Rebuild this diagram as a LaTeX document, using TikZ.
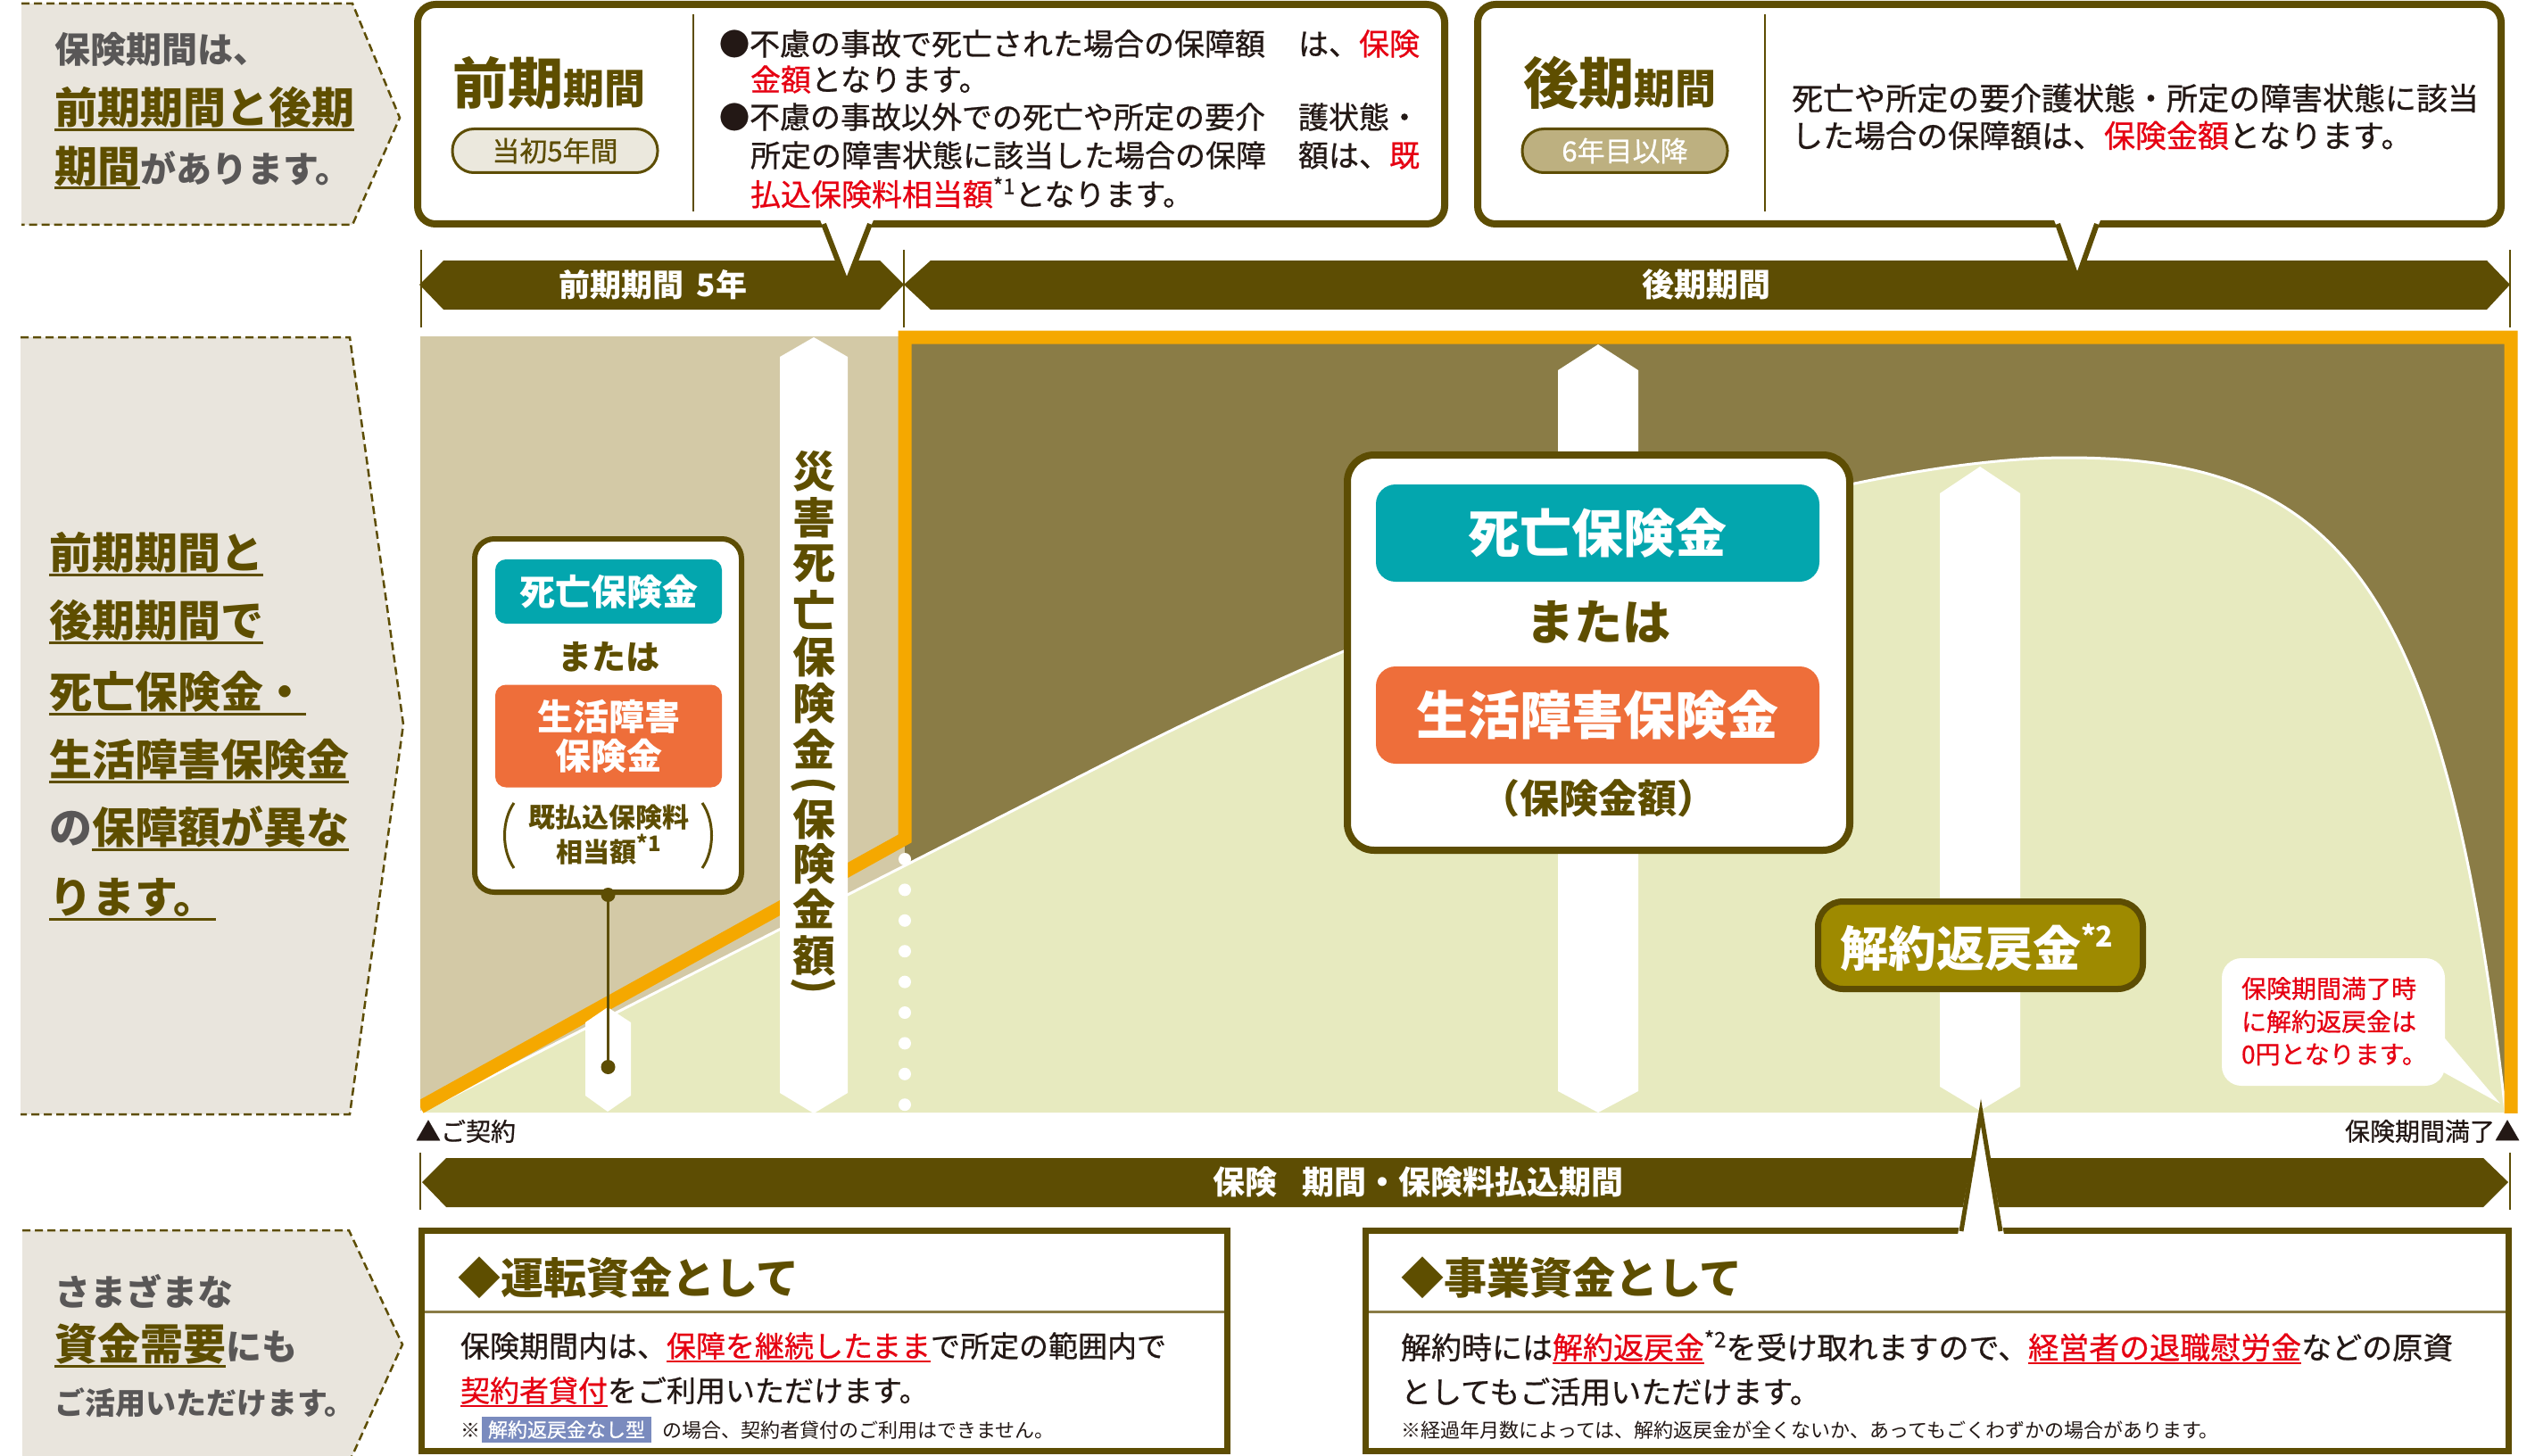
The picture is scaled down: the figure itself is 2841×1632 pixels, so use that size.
\documentclass[tikz,border=0pt]{standalone}
\usepackage{fontspec}
\setmainfont{Noto Sans CJK JP}
\newfontfamily\medf{Noto Sans CJK JP}[FakeBold=0.7]
\definecolor{olv}{RGB}{93,77,3}
\definecolor{olvtxt}{RGB}{94,78,0}
\definecolor{chdark}{RGB}{138,124,70}
\definecolor{chbeige}{RGB}{211,201,166}
\definecolor{chgreen}{RGB}{231,234,191}
\definecolor{orng}{RGB}{245,168,0}
\definecolor{tealbx}{RGB}{3,166,174}
\definecolor{orbox}{RGB}{238,110,58}
\definecolor{goldbx}{RGB}{158,138,0}
\definecolor{redt}{RGB}{230,0,18}
\definecolor{grayt}{RGB}{89,87,87}
\definecolor{darkt}{RGB}{35,24,21}
\definecolor{panelbg}{RGB}{233,229,221}
\definecolor{pilla}{RGB}{235,232,221}
\definecolor{pillb}{RGB}{189,176,128}
\definecolor{bluelb}{RGB}{122,139,190}
\newcommand\fsz[1]{\fontsize{#1pt}{#1pt}\selectfont}
\newcommand\ulx[1]{\leavevmode\setbox0\hbox{#1}\rlap{\rule[-0.17em]{\wd0}{0.06em}}\box0}
\newcommand\supx[3]{\raisebox{#2pt}{\fsz{#1}#3}}
\begin{document}
\begin{tikzpicture}[x=1pt,y=-1pt,
  txt/.style={inner sep=0pt,outer sep=0pt},
  lbl/.style={txt,anchor=west},
  panelfill/.style={fill=panelbg},
  paneledge/.style={draw=olv,line width=2.5pt,dash pattern=on 9pt off 5pt},
  bar/.style={fill=olv},
  vtick/.style={draw=olv,line width=2pt},
  callout/.style={draw=olv,line width=8pt,fill=white,rounded corners=20pt,inner sep=0pt},
  pillstyle/.style={draw=olv,line width=3pt,rounded corners=24pt,minimum width=230pt,minimum height=49pt,inner sep=0pt,font=\fsz{31}\medf},
  colw/.style={fill=white},
  bodytxt/.style={txt,anchor=west,text=darkt}]
\useasboundingbox (0,0) rectangle (2841,1632);

% ---------- left panels ----------
\fill[panelfill] (24,4) -- (395,4) -- (448,132) -- (395,252) -- (24,252) -- cycle;
\draw[paneledge] (24,4) -- (395,4) -- (448,132) -- (395,252) -- (24,252);
\fill[panelfill] (23,378) -- (392,378) -- (452,812) -- (392,1249) -- (23,1249) -- cycle;
\draw[paneledge] (23,378) -- (392,378) -- (452,812) -- (392,1249) -- (23,1249);
\fill[panelfill] (25,1379) -- (391,1379) -- (451,1507) -- (391,1640) -- (25,1640) -- cycle;
\draw[paneledge] (25,1379) -- (391,1379) -- (451,1507) -- (391,1640);

\node[lbl,text=grayt,font=\fsz{40}\bfseries] (p1a) at (61,55) {保険期間は、};
\node[lbl,text=olvtxt,font=\fsz{48}\bfseries] (p1b) at (61,122) {\ulx{前期期間と後期}};
\node[lbl,font=\bfseries] (p1c) at (61,188) {\fsz{48}\textcolor{olvtxt}{\ulx{期間}}\fsz{40}\textcolor{grayt}{があります。}};

\foreach \txx/\yy [count=\i] in {前期期間と/621,後期期間で/697,死亡保険金・/777,生活障害保険金/853}
  \node[lbl,text=olvtxt,font=\fsz{48}\bfseries] (p2\i) at (55,\yy) {\ulx{\txx}};
\node[lbl,font=\fsz{48}\bfseries] (p25) at (55,929) {\textcolor{grayt}{の}\textcolor{olvtxt}{\ulx{保障額が異な}}};
\node[lbl,text=olvtxt,font=\fsz{48}\bfseries] (p26) at (55,1008) {\ulx{ります。}};

\node[lbl,text=grayt,font=\fsz{40}\bfseries] (p3a) at (61,1447) {さまざまな};
\node[lbl,font=\bfseries] (p3b) at (61,1508) {\fsz{48}\textcolor{olvtxt}{\ulx{資金需要}}\fsz{40}\textcolor{grayt}{にも}};
\node[lbl,text=grayt,font=\fsz{34}\bfseries] (p3c) at (61,1572) {ご活用いただけます。};

% ---------- top period bars ----------
\fill[bar] (497,292) -- (986,292) -- (1013,319) -- (986,347) -- (497,347) -- (470,319) -- cycle;
\fill[bar] (1043,292) -- (2787,292) -- (2813,319) -- (2787,347) -- (1043,347) -- (1013,319) -- cycle;
\node[txt,text=white,font=\fsz{35}\bfseries] (barA) at (732,319) {前期期間\hspace{0.4em}5年};
\node[txt,text=white,font=\fsz{36}\bfseries] (barB) at (1912,319) {後期期間};
\draw[vtick] (472,280) -- (472,367);
\draw[vtick] (1013,280) -- (1013,367);
\draw[vtick] (2813,280) -- (2813,367);

% ---------- top callouts ----------
\node[callout,minimum width=1151pt,minimum height=246pt] (cb1) at (1043.5,128) {};
\coordinate (cb1tip) at (949,318);
\fill[white] (918,244) -- (cb1tip) -- (980,244) -- cycle;
\draw[olv,line width=6pt] (923,251) -- (cb1tip) -- (975,251);

\node[callout,minimum width=1147pt,minimum height=246pt] (cb2) at (2229.5,128) {};
\coordinate (cb2tip) at (2328,313);
\fill[white] (2301,244) -- (cb2tip) -- (2355,244) -- cycle;
\draw[olv,line width=6pt] (2306,251) -- (cb2tip) -- (2350,251);

\node[txt,anchor=base west,text=olvtxt,font=\bfseries] (cb1title) at (507,117) {\fsz{62}前期\fsz{46}期間};
\node[pillstyle,fill=pilla,text=olv] (pill1) at (622,169) {当初5年間};
\draw[olv,line width=2pt] (777,16) -- (777,237);
\node[bodytxt,font=\fsz{34}\medf] (l1a) at (806,49) {●不慮の事故で死亡された場合の保障額};
\node[txt,anchor=east,text=darkt,font=\fsz{34}\medf] (l1b) at (1591,49) {は、\textcolor{redt}{保険}};
\node[bodytxt,font=\fsz{34}\medf] (l2) at (841,89) {\textcolor{redt}{金額}となります。};
\node[bodytxt,font=\fsz{34}\medf] (l3a) at (806,131) {●不慮の事故以外での死亡や所定の要介};
\node[txt,anchor=east,text=darkt,font=\fsz{34}\medf] (l3b) at (1591,131) {護状態・};
\node[bodytxt,font=\fsz{34}\medf] (l4a) at (841,174) {所定の障害状態に該当した場合の保障};
\node[txt,anchor=east,text=darkt,font=\fsz{34}\medf] (l4b) at (1591,174) {額は、\textcolor{redt}{既}};
\node[bodytxt,font=\fsz{34}\medf] (l5) at (841,216) {\textcolor{redt}{払込保険料相当額}\supx{24}{13}{*1}となります。};

\node[txt,anchor=base west,text=olvtxt,font=\bfseries] (cb2title) at (1707,117) {\fsz{62}後期\fsz{46}期間};
\node[pillstyle,fill=pillb,text=white] (pill2) at (1821,169) {6年目以降};
\draw[olv,line width=2pt] (1978,16) -- (1978,237);
\node[bodytxt,font=\fsz{35}\medf] (r1) at (2008,110) {死亡や所定の要介護状態・所定の障害状態に該当};
\node[bodytxt,font=\fsz{35}\medf] (r2) at (2008,152) {した場合の保障額は、\textcolor{redt}{保険金額}となります。};

% ---------- chart ----------
\fill[chbeige] (471,377) rectangle (1014,1247);
\fill[chdark] (1014,377) rectangle (2814,1247);
\fill[chgreen] (471,1247) -- (1250,850) .. controls (1700,621) and (2100,513) .. (2317,513) .. controls (2620,513) and (2740,650) .. (2808,1247) -- cycle;
\draw[white,line width=3pt] (471,1247) -- (1250,850) .. controls (1700,621) and (2100,513) .. (2317,513) .. controls (2620,513) and (2740,650) .. (2808,1247);
\begin{scope}
  \clip (471,350) rectangle (2850,1247);
  \draw[orng,line width=15pt,line join=miter] (471,1241) -- (1014,940) -- (1014,378) -- (2814,378) -- (2814,1260);
\end{scope}
\foreach \i in {0,...,8} \fill[white] (1014,963+34.4*\i) circle (7pt);

% white columns
\fill[colw] (874,400) -- (912,378) -- (950,400) -- (950,1225) -- (912,1248) -- (874,1225) -- cycle;
\fill[colw] (656,1146) -- (681,1129) -- (707,1146) -- (707,1228) -- (681,1246) -- (656,1228) -- cycle;
\fill[colw] (1746,415) -- (1791,386) -- (1836,415) -- (1836,1223) -- (1791,1247) -- (1746,1223) -- cycle;
\fill[colw] (2174,553) -- (2219,523) -- (2264,553) -- (2264,1218) -- (2219,1245) -- (2174,1218) -- cycle;

\foreach \ch/\yy [count=\i] in {災/528,害/580,死/632,亡/684,保/736,険/788,金/840,保/918,険/968,金/1019,額/1071}
  \node[txt,text=olvtxt,font=\fsz{48}\bfseries] (va\i) at (912,\yy) {\ch};
\node[txt,text=olvtxt,font=\fsz{48}\bfseries,rotate=-90] (vap1) at (912,880) {(};
\node[txt,text=olvtxt,font=\fsz{48}\bfseries,rotate=-90] (vap2) at (912,1105) {)};

% small box
\node[draw=olv,line width=6pt,fill=white,rounded corners=22pt,minimum width=299pt,minimum height=396pt,inner sep=0pt] (sbox) at (681.5,802) {};
\node[fill=tealbx,rounded corners=12pt,minimum width=254pt,minimum height=72pt,inner sep=0pt,text=white,font=\fsz{40}\bfseries] (sdeath) at (682,663) {死亡保険金};
\node[txt,text=olvtxt,font=\fsz{38}\bfseries] (sor) at (682,736) {または};
\node[fill=orbox,rounded corners=12pt,minimum width=254pt,minimum height=115pt,inner sep=0pt,text=white,font=\fontsize{40pt}{44pt}\selectfont\bfseries,align=center] (sdis) at (682,825) {生活障害\\保険金};
\node[txt,text=olv,font=\fontsize{30pt}{39pt}\selectfont\bfseries,align=center] (sprem) at (682,936) {既払込保険料\\相当額\supx{24}{12}{*1}};
\draw[olv,line width=3pt] (576,900) .. controls (562,920) and (562,953) .. (576,973);
\draw[olv,line width=3pt] (787,900) .. controls (801,920) and (801,953) .. (787,973);
\coordinate (sdot) at (681.5,1196);
\draw[olv,line width=2.5pt] (sbox.south) -- (sdot);
\fill[olv] (sbox.south) circle (8pt);
\fill[olv] (sdot) circle (8pt);

% big box
\node[draw=olv,line width=8pt,fill=white,rounded corners=30pt,minimum width=563pt,minimum height=443pt,inner sep=0pt] (bbox) at (1791.5,731.5) {};
\node[fill=tealbx,rounded corners=22pt,minimum width=497pt,minimum height=109pt,inner sep=0pt,text=white,font=\fsz{58}\bfseries] (bdeath) at (1790.5,597.5) {死亡保険金};
\node[txt,text=olvtxt,font=\fsz{54}\bfseries] (bor) at (1791,697) {または};
\node[fill=orbox,rounded corners=22pt,minimum width=497pt,minimum height=109pt,inner sep=0pt,text=white,font=\fsz{58}\bfseries] (bdis) at (1790.5,801.5) {生活障害保険金};
\node[txt,text=olvtxt,font=\fsz{44}\bfseries] (bamt) at (1791,895) {（保険金額）};

% surrender value box
\node[draw=olv,line width=7pt,fill=goldbx,rounded corners=28pt,minimum width=364pt,minimum height=98pt,inner sep=0pt] (gbox) at (2219.5,1059.5) {};
\node[lbl,text=white,font=\fsz{54}\bfseries] (gtxt) at (2062,1062) {解約返戻金\supx{32}{22}{*2}};

% bubble
\node[fill=white,rounded corners=22pt,minimum width=250pt,minimum height=143pt,inner sep=0pt] (bub) at (2615,1145.5) {};
\coordinate (bubtip) at (2802,1237);
\fill[white] (2735,1158) -- (bubtip) -- (2735,1200) -- cycle;
\node[lbl,text=redt,font=\fsz{28}\medf] (bub1) at (2512,1108) {保険期間満了時};
\node[lbl,text=redt,font=\fsz{28}\medf] (bub2) at (2512,1145) {に解約返戻金は};
\node[lbl,text=redt,font=\fsz{28}\medf] (bub3) at (2512,1182) {0円となります。};

% labels
\node[lbl,text=darkt,font=\fsz{28}\medf] (startlbl) at (466,1268) {▲ご契約};
\node[txt,anchor=east,text=darkt,font=\fsz{28}\medf] (endlbl) at (2824,1268) {保険期間満了▲};

% bottom bar
\fill[bar] (500,1298) -- (2783,1298) -- (2811,1325) -- (2783,1353) -- (500,1353) -- (473,1325) -- cycle;
\node[lbl,text=white,font=\fsz{36}\bfseries] (barC) at (1359,1325) {保険\hspace{0.8em}期間・保険料払込期間};
\draw[vtick] (471,1292) -- (471,1356);
\draw[vtick] (2813,1292) -- (2813,1356);

% bottom boxes
\node[draw=olv,line width=7pt,fill=white,minimum width=903pt,minimum height=247pt,inner sep=0pt] (bx3) at (924,1503) {};
\node[draw=olv,line width=7pt,fill=white,minimum width=1281pt,minimum height=247pt,inner sep=0pt] (bx4) at (2171,1503) {};
\coordinate (bx4tip) at (2220,1247);
\fill[white] (2194,1384) -- (bx4tip) -- (2246,1384) -- cycle;
\draw[olv,line width=5pt] (2198,1380) -- (bx4tip) -- (2242,1380);
\draw[chdark,line width=3pt] (476,1470) -- (1372,1470);
\draw[chdark,line width=3pt] (1534,1470) -- (2808,1470);

\node[lbl,text=olvtxt,font=\fsz{48}\bfseries] (bx3t) at (513,1432) {◆運転資金として};
\node[lbl,text=olvtxt,font=\fsz{48}\bfseries] (bx4t) at (1570,1432) {◆事業資金として};

\node[bodytxt,font=\fsz{33}\medf] (bx3a) at (516,1510) {保険期間内は、\textcolor{redt}{\ulx{保障を継続したまま}}で所定の範囲内で};
\node[bodytxt,font=\fsz{33}\medf] (bx3b) at (516,1560) {\textcolor{redt}{\ulx{契約者貸付}}をご利用いただけます。};
\node[bodytxt,font=\fsz{22}] (bx3c) at (516,1603) {※};
\node[fill=bluelb,minimum width=190pt,minimum height=29pt,inner sep=0pt,text=white,font=\fsz{22}\medf] (bx3lab) at (635,1602.5) {解約返戻金なし型};
\node[bodytxt,font=\fsz{22}] (bx3d) at (742,1603) {の場合、契約者貸付のご利用はできません。};

\node[bodytxt,font=\fsz{34}\medf] (bx4a) at (1570,1510) {解約時には\textcolor{redt}{\ulx{解約返戻金}}\supx{24}{13}{*2}を受け取れますので、\textcolor{redt}{\ulx{経営者の退職慰労金}}などの原資};
\node[bodytxt,font=\fsz{34}\medf] (bx4b) at (1570,1560) {としてもご活用いただけます。};
\node[bodytxt,font=\fsz{22}] (bx4c) at (1570,1603) {※経過年月数によっては、解約返戻金が全くないか、あってもごくわずかの場合があります。};
\end{tikzpicture}
\end{document}
